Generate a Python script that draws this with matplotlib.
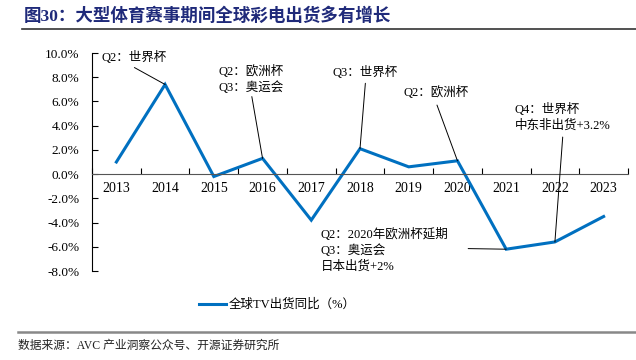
import matplotlib
matplotlib.use("Agg")
import matplotlib.pyplot as plt
from matplotlib.lines import Line2D

plt.rcParams['font.family'] = ['Liberation Serif', 'Noto Sans CJK SC', 'DejaVu Sans']

years = ['2013', '2014', '2015', '2016', '2017', '2018', '2019', '2020', '2021', '2022', '2023']
growth = [1.0, 7.4, -0.2, 1.3, -3.8, 2.1, 0.6, 1.1, -6.2, -5.6, -3.5]
yticks = [-8, -6, -4, -2, 0, 2, 4, 6, 8, 10]
series_name = '全球TV出货同比（%）'
title = '图30：大型体育赛事期间全球彩电出货多有增长'
source = '数据来源：AVC 产业洞察公众号、开源证券研究所'

blue = '#0070C0'

fig = plt.figure(figsize=(6.36, 3.6), dpi=100)
ax = fig.add_axes([92/636, 1-271/360, (628-92)/636, (271-53)/360])

x = list(range(len(years)))
ax.plot(x, growth, color=blue, lw=2.2, solid_joinstyle='miter', label=series_name)

ax.set_xlim(-0.5, len(years) - 0.5)
ax.set_ylim(-8, 10)
ax.set_yticks(yticks)
ax.set_yticklabels([f'{v:.1f}%' for v in yticks], fontsize=9.5)
ax.tick_params(axis='y', direction='in', length=4, pad=9, width=0.8)

ax.set_xticks([i - 0.5 for i in range(len(years) + 1)])
ax.set_xticklabels([])
ax.set_xticks(x, minor=True)
ax.set_xticklabels(years, minor=True, fontsize=9.5)
ax.tick_params(axis='x', which='major', direction='in', length=4, width=0.8)
ax.tick_params(axis='x', which='minor', length=0, pad=6)

for s in ['top', 'right']:
    ax.spines[s].set_visible(False)
ax.spines['bottom'].set_position(('data', 0))
ax.spines['left'].set_linewidth(0.8)
ax.spines['bottom'].set_linewidth(0.8)
ax.spines['bottom'].set_color('#555555')

fs = 9
arrow = dict(arrowstyle='-', color='black', lw=0.7, shrinkA=0, shrinkB=0)
ax.text(-0.3, 9.6, 'Q2：世界杯', fontsize=fs, va='center', ha='left')
ax.annotate('', xy=(1, growth[1]), xytext=(0.37, 8.8), arrowprops=arrow)

ax.text(2.1, 7.8, 'Q2：欧洲杯\nQ3：奥运会', fontsize=fs, va='center', ha='left', linespacing=1.35)
ax.annotate('', xy=(3, growth[3]), xytext=(2.78, 6.4), arrowprops=arrow)

ax.text(4.44, 8.4, 'Q3：世界杯', fontsize=fs, va='center', ha='left')
ax.annotate('', xy=(5, growth[5]), xytext=(5.11, 7.5), arrowprops=arrow)

ax.text(5.89, 6.7, 'Q2：欧洲杯', fontsize=fs, va='center', ha='left')
ax.annotate('', xy=(7, growth[7]), xytext=(6.58, 5.7), arrowprops=arrow)

ax.text(8.18, 4.7, 'Q4：世界杯\n中东非出货+3.2%', fontsize=fs, va='center', ha='left', linespacing=1.35)
ax.annotate('', xy=(9, growth[9]), xytext=(9.16, 3.06), arrowprops=arrow)

ax.text(4.19, -6.28, 'Q2：2020年欧洲杯延期\nQ3：奥运会\n日本出货+2%', fontsize=fs,
        va='center', ha='left', linespacing=1.35)
ax.annotate('', xy=(8, growth[8]), xytext=(7.22, -6.15), arrowprops=arrow)

leg = fig.legend(handles=[Line2D([0], [0], color=blue, lw=2.2)], labels=[series_name],
                 loc='center', bbox_to_anchor=(277/636, 1-305/360), frameon=False,
                 fontsize=9, handlelength=2.2, handletextpad=0.15)

fig.text(24/636, 1-16/360, title, fontsize=12.6, fontweight='bold', color='#1F2A7A',
         va='center', ha='left')
fig.add_artist(Line2D([22/636, 1], [1-29/360, 1-29/360], color='#333333', lw=1.2))
fig.add_artist(Line2D([18/636, 1], [1-332/360, 1-332/360], color='#888888', lw=1.8))
fig.text(18/636, 1-346/360, source, fontsize=8.5, color='#222222', va='center', ha='left')

fig.savefig('out.png', dpi=100)
